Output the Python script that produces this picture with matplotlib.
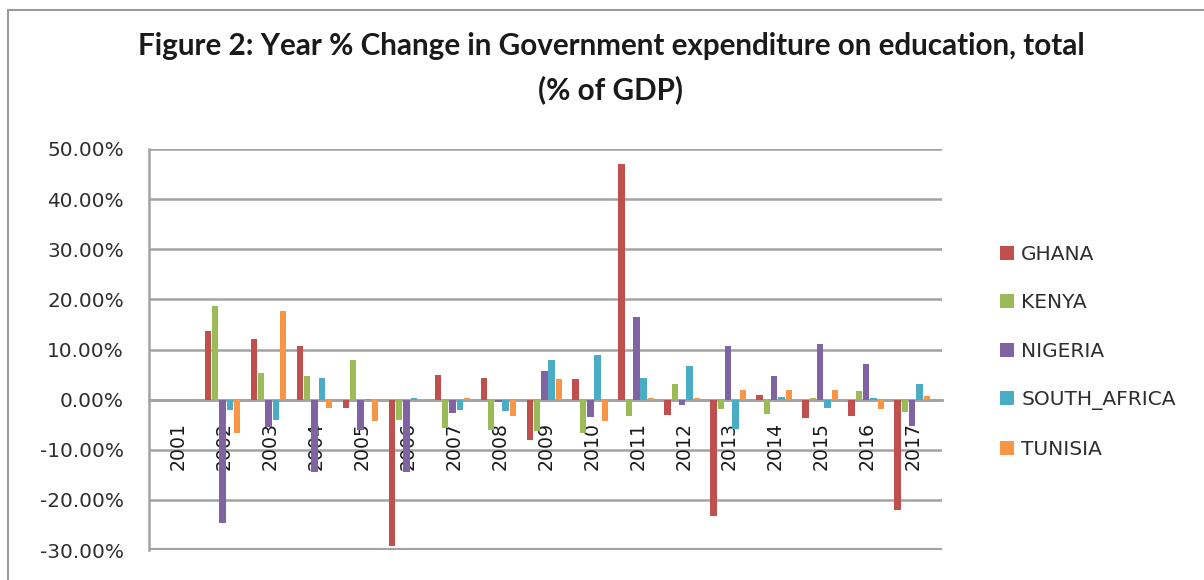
import matplotlib.pyplot as plt
import numpy as np
from matplotlib.patches import Rectangle
from matplotlib.ticker import PercentFormatter, MultipleLocator

plt.rcParams['font.family'] = ['DejaVu Sans']
plt.rcParams['axes.unicode_minus'] = False

years = [str(y) for y in range(2001, 2018)]
countries = ['GHANA', 'KENYA', 'NIGERIA', 'SOUTH_AFRICA', 'TUNISIA']
colors = ['#C0504D', '#9BBB59', '#8064A2', '#4BACC6', '#F79646']

# year-on-year % change, one list per country (2001 has no previous year)
ghana = [0, 13.7, 12.0, 10.7, -1.7, -29.3, 5.0, 4.3, -8.0, 4.1, 47.0, -3.0, -23.2, 1.0, -3.7, -3.2, -22.0]
kenya = [0, 18.7, 5.3, 4.7, 8.0, -4.0, -5.7, -6.0, -6.3, -6.7, -3.3, 3.1, -1.9, -2.8, 0.3, 1.7, -2.5]
nigeria = [0, -24.7, -5.5, -14.5, -6.0, -14.5, -2.7, -0.5, 5.7, -3.5, 16.5, -1.1, 10.7, 4.8, 11.0, 7.2, -5.3]
south_africa = [0, -2.0, -4.0, 4.3, 0.2, 0.3, -2.0, -2.3, 8.0, 9.0, 4.3, 6.8, -5.9, 0.5, -1.7, 0.3, 3.1]
tunisia = [0, -6.7, 17.7, -1.7, -4.3, 0.2, 0.3, -3.2, 4.1, -4.3, 0.3, 0.3, 2.0, 2.0, 1.9, -1.9, 0.7]

series = [ghana, kenya, nigeria, south_africa, tunisia]

W, H = 1204, 580
fig = plt.figure(figsize=(W / 100, H / 100), dpi=100)
ax = fig.add_axes([149 / W, 1 - 550 / H, (942 - 149) / W, (550 - 149) / H])

x = np.arange(len(years))
pitch = 0.159
width = 0.14
handles = []
for i, (vals, c, name) in enumerate(zip(series, colors, countries)):
    v = np.array(vals) / 100.0
    b = ax.bar(x + (i - 2) * pitch, v, width=width, color=c, label=name, zorder=3)
    handles.append(b)

ax.set_xlim(-0.6, 16.65)
ax.set_ylim(-0.30, 0.50)
ax.yaxis.set_major_locator(MultipleLocator(0.10))
ax.yaxis.set_major_formatter(PercentFormatter(xmax=1, decimals=2))

# gridlines like the back wall of the chart
for yv in np.arange(-0.20, 0.51, 0.10):
    ax.axhline(yv, color='#a3a3a3', lw=1.8, zorder=1)
ax.axhline(-0.30, color='#a3a3a3', lw=3.0, zorder=1)

for s in ['top', 'right']:
    ax.spines[s].set_visible(False)
ax.spines['left'].set_color('#a3a3a3')
ax.spines['left'].set_linewidth(1.8)
ax.spines['bottom'].set_position(('data', 0))
ax.spines['bottom'].set_color('#a3a3a3')
ax.spines['bottom'].set_linewidth(2.0)
ax.spines['bottom'].set_zorder(2)

ax.set_xticks(x + 0.03)
ax.set_xticklabels(years, rotation=90, fontsize=13.6, color='#1a1a1a')
ax.tick_params(axis='x', length=0, pad=16)
ax.tick_params(axis='y', length=0, pad=18, labelsize=14.4, labelcolor='#2e2e2e')
for lab in ax.get_xticklabels():
    lab.set_zorder(5)

title_font = ['Lato', 'DejaVu Sans']
fig.text(611 / W, 1 - 46 / H,
         'Figure 2: Year % Change in Government expenditure on education, total',
         ha='center', va='center', fontsize=21.3, fontweight='bold',
         family=title_font, color='#1a1a1a')
fig.text(611 / W, 1 - 90 / H, '(% of GDP)',
         ha='center', va='center', fontsize=21.3, fontweight='bold',
         family=title_font, color='#1a1a1a')

fig.legend(handles=handles, labels=countries, loc='upper left',
           bbox_to_anchor=(1000 / W, 1 - 245 / H), frameon=False,
           fontsize=14.5, labelspacing=1.46, handlelength=0.7,
           handleheight=0.7, handletextpad=0.35, borderpad=0,
           borderaxespad=0, labelcolor='#2e2e2e')

# outer chart border
fig.add_artist(Rectangle((8 / W, -0.1), 2, 1.1 - 10 / H, transform=fig.transFigure,
                         fill=False, edgecolor='#9a9a9a', lw=1.5))

fig.savefig('out.png', dpi=100)
